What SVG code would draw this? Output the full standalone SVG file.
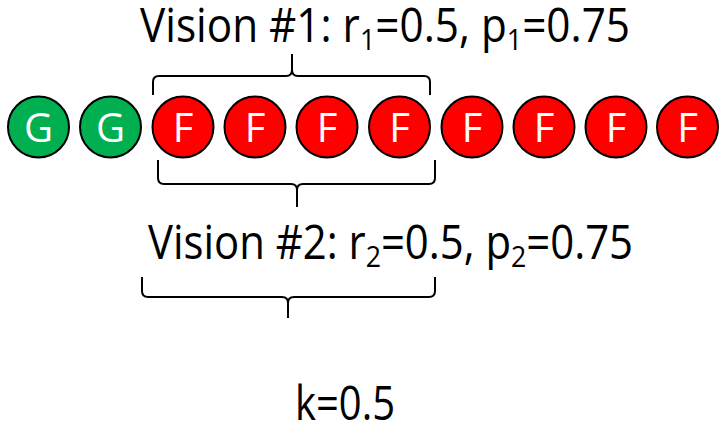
<svg xmlns="http://www.w3.org/2000/svg" width="721" height="428" viewBox="0 0 721 428">
<style>
.n{stroke:#000;stroke-width:2}
.g{fill:#00B050}
.r{fill:#FF0000}
.l{font-family:"Open Sans","Liberation Sans",sans-serif;font-size:40px;fill:#fff;text-anchor:middle}
.t{font-family:"Open Sans","Liberation Sans",sans-serif;font-size:47px;fill:#000}
.s{font-size:30px}
.b{fill:none;stroke:#000;stroke-width:2}
</style>
<rect width="721" height="428" fill="#fff"/>
<g id="n1"><circle class="n g" cx="38.5" cy="127" r="30.5"/><text class="l" x="38.5" y="142">G</text></g>
<g id="n2"><circle class="n g" cx="110.5" cy="127" r="30.5"/><text class="l" x="110.5" y="142">G</text></g>
<g id="n3"><circle class="n r" cx="183" cy="127" r="30.5"/><text class="l" x="183" y="142">F</text></g>
<g id="n4"><circle class="n r" cx="255" cy="127" r="30.5"/><text class="l" x="255" y="142">F</text></g>
<g id="n5"><circle class="n r" cx="327" cy="127" r="30.5"/><text class="l" x="327" y="142">F</text></g>
<g id="n6"><circle class="n r" cx="399.5" cy="127" r="30.5"/><text class="l" x="399.5" y="142">F</text></g>
<g id="n7"><circle class="n r" cx="472" cy="127" r="30.5"/><text class="l" x="472" y="142">F</text></g>
<g id="n8"><circle class="n r" cx="544" cy="127" r="30.5"/><text class="l" x="544" y="142">F</text></g>
<g id="n9"><circle class="n r" cx="616" cy="127" r="30.5"/><text class="l" x="616" y="142">F</text></g>
<g id="n10"><circle class="n r" cx="687.5" cy="127" r="30.5"/><text class="l" x="687.5" y="142">F</text></g>
<g id="braces">
<path class="b" d="M153,95 L153,82 Q153,76 159,76 L286,76 Q292,76 292,70 L292,54 L292,70 Q292,76 298,76 L424,76 Q430,76 430,82 L430,95"/>
<path class="b" d="M158,160 L158,178 Q158,184 164,184 L291,184 Q297,184 297,190 L297,207 L297,190 Q297,184 303,184 L429,184 Q435,184 435,178 L435,160"/>
<path class="b" d="M142,277 L142,291 Q142,297 148,297 L282,297 Q288,297 288,303 L288,318 L288,303 Q288,297 294,297 L429,297 Q435,297 435,291 L435,277"/>
</g>
<g id="labels">
<text class="t" x="140" y="42" textLength="490" lengthAdjust="spacingAndGlyphs">Vision #1: r<tspan class="s" dy="8">1</tspan><tspan dy="-8">=0.5, p</tspan><tspan class="s" dy="8">1</tspan><tspan dy="-8">=0.75</tspan></text>
<text class="t" x="148" y="259" textLength="485" lengthAdjust="spacingAndGlyphs">Vision #2: r<tspan class="s" dy="8">2</tspan><tspan dy="-8">=0.5, p</tspan><tspan class="s" dy="8">2</tspan><tspan dy="-8">=0.75</tspan></text>
<text class="t" x="295" y="420" textLength="100" lengthAdjust="spacingAndGlyphs">k=0.5</text>
</g>
</svg>
